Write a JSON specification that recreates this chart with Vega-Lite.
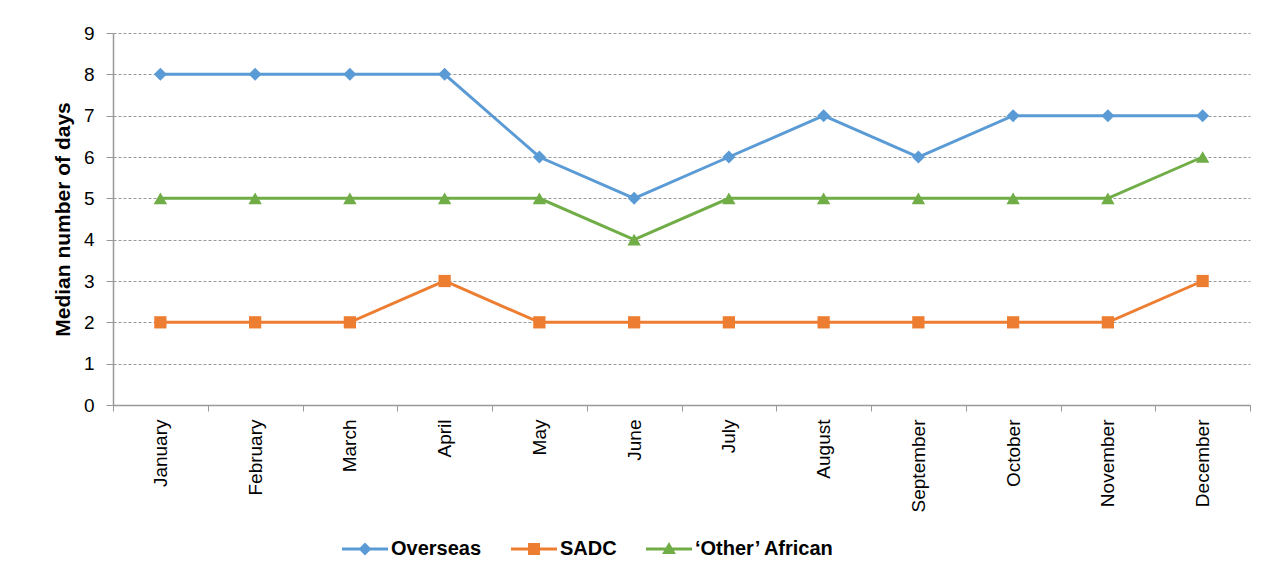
{
  "$schema": "https://vega.github.io/schema/vega-lite/v6.json",
  "width": 1137,
  "height": 372,
  "autosize": "none",
  "padding": {"left": 113, "top": 33, "right": 25, "bottom": 174},
  "background": "white",
  "config": {
    "view": {"stroke": null},
    "font": "Liberation Sans"
  },
  "data": {
    "values": [
      {"month": "January", "series": "Overseas", "days": 8},
      {"month": "February", "series": "Overseas", "days": 8},
      {"month": "March", "series": "Overseas", "days": 8},
      {"month": "April", "series": "Overseas", "days": 8},
      {"month": "May", "series": "Overseas", "days": 6},
      {"month": "June", "series": "Overseas", "days": 5},
      {"month": "July", "series": "Overseas", "days": 6},
      {"month": "August", "series": "Overseas", "days": 7},
      {"month": "September", "series": "Overseas", "days": 6},
      {"month": "October", "series": "Overseas", "days": 7},
      {"month": "November", "series": "Overseas", "days": 7},
      {"month": "December", "series": "Overseas", "days": 7},
      {"month": "January", "series": "SADC", "days": 2},
      {"month": "February", "series": "SADC", "days": 2},
      {"month": "March", "series": "SADC", "days": 2},
      {"month": "April", "series": "SADC", "days": 3},
      {"month": "May", "series": "SADC", "days": 2},
      {"month": "June", "series": "SADC", "days": 2},
      {"month": "July", "series": "SADC", "days": 2},
      {"month": "August", "series": "SADC", "days": 2},
      {"month": "September", "series": "SADC", "days": 2},
      {"month": "October", "series": "SADC", "days": 2},
      {"month": "November", "series": "SADC", "days": 2},
      {"month": "December", "series": "SADC", "days": 3},
      {"month": "January", "series": "‘Other’ African", "days": 5},
      {"month": "February", "series": "‘Other’ African", "days": 5},
      {"month": "March", "series": "‘Other’ African", "days": 5},
      {"month": "April", "series": "‘Other’ African", "days": 5},
      {"month": "May", "series": "‘Other’ African", "days": 5},
      {"month": "June", "series": "‘Other’ African", "days": 4},
      {"month": "July", "series": "‘Other’ African", "days": 5},
      {"month": "August", "series": "‘Other’ African", "days": 5},
      {"month": "September", "series": "‘Other’ African", "days": 5},
      {"month": "October", "series": "‘Other’ African", "days": 5},
      {"month": "November", "series": "‘Other’ African", "days": 5},
      {"month": "December", "series": "‘Other’ African", "days": 6}
    ]
  },
  "encoding": {
    "x": {
      "field": "month",
      "type": "ordinal",
      "sort": ["January","February","March","April","May","June","July","August","September","October","November","December"],
      "scale": {"type": "band", "paddingInner": 0, "paddingOuter": 0},
      "axis": {
        "title": null,
        "labelAngle": -90,
        "labelFontSize": 19,
        "labelColor": "#000",
        "labelPadding": 8,
        "tickBand": "extent",
        "tickSize": 6,
        "tickColor": "#999",
        "domainColor": "#999",
        "domainWidth": 1.5,
        "grid": false
      }
    },
    "y": {
      "field": "days",
      "type": "quantitative",
      "scale": {"domain": [0, 9]},
      "axis": {
        "title": "Median number of days",
        "titleFontSize": 21,
        "titleFontWeight": "bold",
        "titleColor": "#000",
        "titlePadding": 10,
        "values": [0,1,2,3,4,5,6,7,8,9],
        "labelFontSize": 19,
        "labelColor": "#000",
        "labelPadding": 12,
        "tickSize": 7,
        "tickColor": "#999",
        "domainColor": "#999",
        "domainWidth": 1.5,
        "grid": true,
        "gridColor": "#999",
        "gridDash": [3, 2],
        "gridWidth": 1
      }
    },
    "color": {
      "field": "series",
      "type": "nominal",
      "scale": {
        "domain": ["Overseas", "SADC", "‘Other’ African"],
        "range": ["#5B9BD5", "#ED7D31", "#70AD47"]
      }
    }
  },
  "layer": [
    {
      "mark": {"type": "line", "strokeWidth": 3}
    },
    {
      "transform": [{"filter": "datum.series === 'Overseas'"}],
      "mark": {"type": "point", "shape": "diamond", "filled": true, "opacity": 1, "size": 170}
    },
    {
      "transform": [{"filter": "datum.series === 'SADC'"}],
      "mark": {"type": "point", "shape": "square", "filled": true, "opacity": 1, "size": 150}
    },
    {
      "transform": [{"filter": "datum.series !== 'Overseas' && datum.series !== 'SADC'"}],
      "mark": {"type": "point", "shape": "triangle-up", "filled": true, "opacity": 1, "size": 180}
    },
    {
      "mark": {"type": "point", "filled": true, "opacity": 0, "size": 10},
      "encoding": {
        "shape": {
          "field": "series",
          "type": "nominal",
          "scale": {
            "domain": ["Overseas", "SADC", "‘Other’ African"],
            "range": [
              "M-1,-0.065H1V0.065H-1Z M0,-0.28L0.28,0L0,0.28L-0.28,0Z",
              "M-1,-0.065H1V0.065H-1Z M-0.26,-0.26H0.26V0.26H-0.26Z",
              "M-1,-0.065H1V0.065H-1Z M0,-0.3L0.3,0.22H-0.3Z"
            ]
          },
          "legend": {
            "title": null,
            "orient": "none",
            "direction": "horizontal",
            "legendX": 229,
            "legendY": 493,
            "symbolSize": 2116,
            "symbolOpacity": 1,
            "symbolStrokeWidth": 0,
            "labelFontSize": 20,
            "labelFontWeight": "bold",
            "labelColor": "#000",
            "labelOffset": 3,
            "columnPadding": 29,
            "padding": 0,
            "labelLimit": 300
          }
        }
      }
    }
  ]
}
